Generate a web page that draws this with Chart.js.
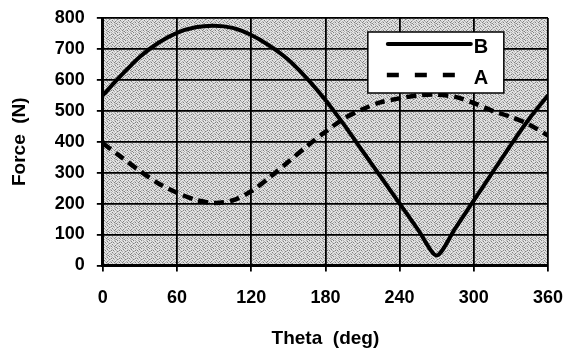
<!DOCTYPE html>
<html>
<head>
<meta charset="utf-8">
<script src="https://cdn.jsdelivr.net/npm/chart.js@4/dist/chart.umd.min.js"></script>
<style>
  html, body { margin: 0; padding: 0; background: #fff; }
  #wrap { width: 567px; height: 348px; }
</style>
</head>
<body>
<div id="wrap"><canvas id="forceChart" width="567" height="348"></canvas></div>
<script>
// angulo (graus) e forcas
const theta = [0, 15, 30, 45, 60, 75, 90, 105, 120, 135, 150, 165, 180,
               195, 210, 225, 240, 255, 270, 285, 300, 315, 330, 345, 360];
const forceB = [550, 615, 675, 720, 752, 770, 775, 768, 745, 710, 665, 605, 535,
                455, 370, 285, 200, 115, 32, 120, 210, 300, 390, 475, 550];
const forceA = [395, 350, 305, 265, 235, 212, 202, 210, 240, 285, 335, 385, 432,
                475, 505, 528, 540, 550, 552, 545, 525, 500, 480, 455, 420];
const yTicks = [0, 100, 200, 300, 400, 500, 600, 700, 800];
const xTicks = [0, 60, 120, 180, 240, 300, 360];

const FONT = "'Liberation Sans', Arial, sans-serif";

function pts(xs, ys) {
    return xs.map((x, i) => ({ x: x, y: ys[i] }));
}

// fundo pontilhado da area do grafico
function makeStipple(ctx) {
    const rows = [
        'lLmLlhLm',
        'mlLhlLlL',
        'LhlLmlLh',
        'lLmlLhml',
        'hlLlmLlL',
        'LmlhLlmL',
        'lLhLlmLh',
        'mlLmhlLl'
    ];
    const col = { l: '#e8e8e8', L: '#d6d6d6', m: '#b0b0b0', h: '#808080' };
    const c = document.createElement('canvas');
    c.width = 8; c.height = 8;
    const g = c.getContext('2d');
    rows.forEach((r, y) => {
        for (let x = 0; x < r.length; x++) {
            g.fillStyle = col[r[x]];
            g.fillRect(x, y, 1, 1);
        }
    });
    return ctx.createPattern(c, 'repeat');
}

const plotBackground = {
    id: 'plotBackground',
    beforeDraw(chart) {
        const { ctx, chartArea: a } = chart;
        ctx.save();
        ctx.fillStyle = makeStipple(ctx);
        ctx.fillRect(a.left, a.top, a.right - a.left, a.bottom - a.top);
        ctx.restore();
    }
};

// legenda dentro da area do grafico (B primeiro, depois A)
const insideLegend = {
    id: 'insideLegend',
    afterDraw(chart) {
        const { ctx, chartArea: a } = chart;
        const boxX = a.left + 265, boxY = a.top + 14, boxW = 136, boxH = 61;
        ctx.save();
        ctx.fillStyle = '#fff';
        ctx.fillRect(boxX, boxY, boxW, boxH);
        ctx.strokeStyle = '#000';
        ctx.lineWidth = 1.5;
        ctx.strokeRect(boxX, boxY, boxW, boxH);

        const order = [0, 1];
        order.forEach((di, row) => {
            const ds = chart.data.datasets[di];
            const y = boxY + 12 + row * 31;
            ctx.beginPath();
            ctx.setLineDash(ds.borderDash ? [12, 16] : []);
            ctx.lineWidth = ds.borderWidth;
            ctx.strokeStyle = ds.borderColor;
            ctx.lineCap = ds.borderDash ? 'butt' : 'round';
            ctx.moveTo(ds.borderDash ? boxX + 19 : boxX + 20, y);
            ctx.lineTo(boxX + 103, y);
            ctx.stroke();
            ctx.setLineDash([]);
            ctx.fillStyle = '#000';
            ctx.font = 'bold 20px ' + FONT;
            ctx.textBaseline = 'middle';
            ctx.textAlign = 'left';
            ctx.fillText(ds.label, boxX + 106, y + 3);
        });
        ctx.restore();
    }
};

new Chart(document.getElementById('forceChart'), {
    type: 'line',
    data: {
        datasets: [
            {
                label: 'B',
                data: pts(theta, forceB),
                borderColor: '#000',
                borderWidth: 4,
                pointRadius: 0,
                tension: 0.25,
                fill: false
            },
            {
                label: 'A',
                data: pts(theta, forceA),
                borderColor: '#000',
                borderWidth: 4.5,
                borderDash: [10, 6],
                pointRadius: 0,
                tension: 0.3,
                fill: false
            }
        ]
    },
    options: {
        responsive: false,
        animation: false,
        devicePixelRatio: 1,
        layout: { padding: { top: 0, right: 0, left: 8, bottom: 0 } },
        plugins: {
            legend: { display: false },
            tooltip: { enabled: false }
        },
        scales: {
            x: {
                type: 'linear',
                min: 0,
                max: 360,
                afterBuildTicks: s => { s.ticks = xTicks.map(v => ({ value: v })); },
                afterFit: s => { s.paddingRight = 19; },
                grid: { color: '#000', lineWidth: 1.8, tickLength: 6, tickColor: '#000', tickWidth: 1.8 },
                border: { color: '#000', width: 3 },
                ticks: { color: '#000', padding: 16, font: { family: FONT, size: 18, weight: 'bold' }, maxRotation: 0 },
                title: { display: true, text: 'Theta  (deg)', color: '#000', padding: { top: 4, bottom: 0 },
                         font: { family: FONT, size: 19, weight: 'bold', lineHeight: 1 } }
            },
            y: {
                min: 0,
                max: 800,
                afterBuildTicks: s => { s.ticks = yTicks.map(v => ({ value: v })); },
                afterFit: s => { s.paddingTop = 18; },
                grid: { color: '#000', lineWidth: 1.8, tickLength: 6, tickColor: '#000', tickWidth: 1.8 },
                border: { color: '#000', width: 3 },
                ticks: { color: '#000', padding: 12, font: { family: FONT, size: 18, weight: 'bold' } },
                title: { display: true, text: 'Force  (N)', color: '#000', padding: { top: 0, bottom: 12 },
                         font: { family: FONT, size: 19, weight: 'bold' } }
            }
        }
    },
    plugins: [plotBackground, insideLegend]
});
</script>
</body>
</html>
